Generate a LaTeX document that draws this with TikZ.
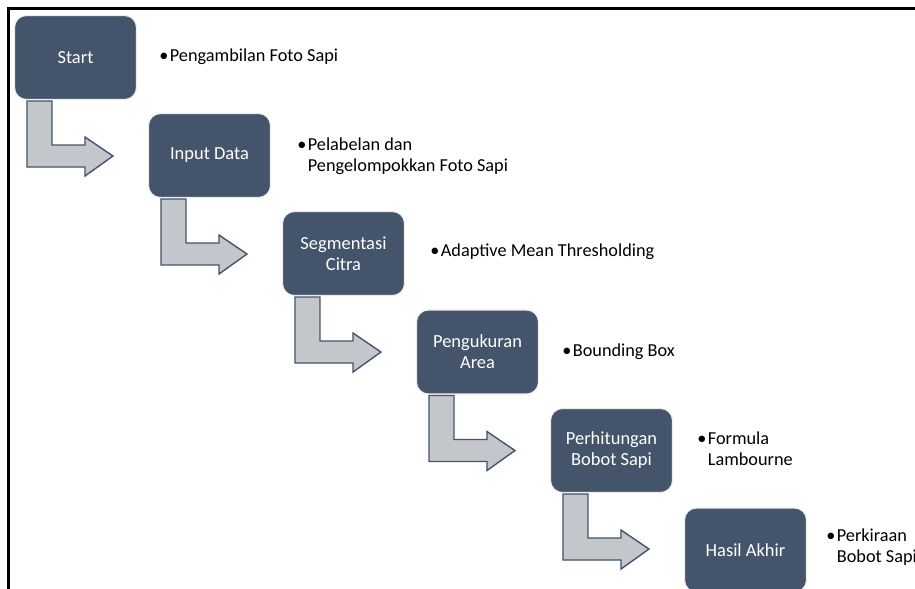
\documentclass[tikz,border=0pt]{standalone}
\usepackage{fontspec}
\setmainfont{Carlito}
\definecolor{slate}{HTML}{44546A}
\definecolor{shaftgrey}{HTML}{C3C6CB}
\newcommand{\bul}{\textbullet\hspace{0.8pt}}

\begin{document}
\begin{tikzpicture}[x=0.02cm, y=-0.02cm,
    stepbox/.style={draw=gray!15, line width=0.6pt, fill=slate,
      rounded corners=0.24cm, minimum width=2.44cm, minimum height=1.68cm,
      text=white, align=center, font=\fontsize{10.5}{12}\selectfont},
    note/.style={anchor=west, align=left, inner sep=0pt,
      font=\fontsize{10.4}{12}\selectfont},
    bent/.style={draw=slate, fill=shaftgrey, line width=0.8pt, line join=miter}]
  \useasboundingbox (0,0) rectangle (915,588);

  % Frame (left and top edges only)
  \draw[line width=1.2pt] (8.5,600) -- (8.5,8.5) -- (930,8.5);

  % Steps
  \node[stepbox] (start) at (75.5,57.5) {Start};
  \node[stepbox] (input) at (209.5,155.5) {Input Data};
  \node[stepbox] (segm)  at (343.5,253.5) {Segmentasi\\Citra};
  \node[stepbox] (ukur)  at (477.5,352) {Pengukuran\\Area};
  \node[stepbox] (hitung) at (611.5,450.5) {Perhitungan\\Bobot Sapi};
  \node[stepbox] (hasil) at (745.5,550) {Hasil Akhir};

  % Notes
  \node[note] (nstart)  at (159,57)  {\bul Pengambilan Foto Sapi};
  \node[note] (ninput)  at (297,156) {\bul Pelabelan dan\\\phantom{\bul}Pengelompokkan Foto Sapi};
  \node[note] (nsegm)   at (430,252) {\bul Adaptive Mean Thresholding};
  \node[note] (nukur)   at (562,352) {\bul Bounding Box};
  \node[note] (nhitung) at (697,449) {\bul Formula\\\phantom{\bul}Lambourne};
  \node[note] (nhasil)  at (826,547) {\bul Perkiraan\\\phantom{\bul}Bobot Sapi};

  % Bent arrows between steps
  \draw[bent, shift={(start.south west)}] (13,1) -- (13,67) -- (71,67) -- (71,76) -- (99,56) -- (71,37) -- (71,45) -- (38,45) -- (38,1) -- cycle;
  \draw[bent, shift={(input.south west)}] (13,1) -- (13,67) -- (71,67) -- (71,76) -- (99,56) -- (71,37) -- (71,45) -- (38,45) -- (38,1) -- cycle;
  \draw[bent, shift={(segm.south west)}] (13,1) -- (13,67) -- (71,67) -- (71,76) -- (99,56) -- (71,37) -- (71,45) -- (38,45) -- (38,1) -- cycle;
  \draw[bent, shift={(ukur.south west)}] (13,1) -- (13,67) -- (71,67) -- (71,76) -- (99,56) -- (71,37) -- (71,45) -- (38,45) -- (38,1) -- cycle;
  \draw[bent, shift={(hitung.south west)}] (13,1) -- (13,67) -- (71,67) -- (71,76) -- (99,56) -- (71,37) -- (71,45) -- (38,45) -- (38,1) -- cycle;
\end{tikzpicture}
\end{document}
